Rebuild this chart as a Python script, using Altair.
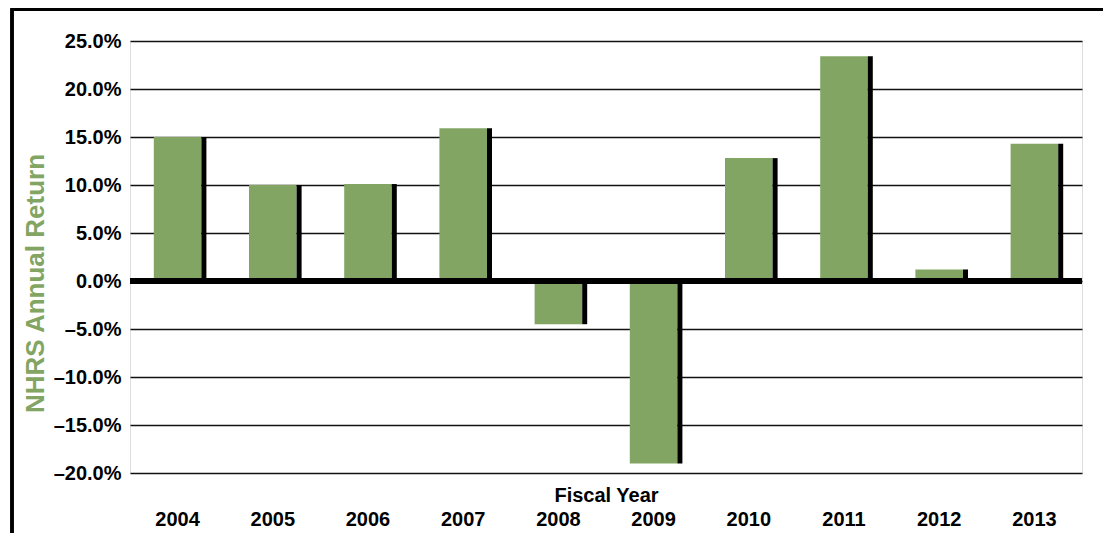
import altair as alt
import pandas as pd

years = ["2004", "2005", "2006", "2007", "2008", "2009", "2010", "2011", "2012", "2013"]
returns = [15.0, 10.0, 10.1, 15.9, -4.5, -19.0, 12.8, 23.4, 1.2, 14.3]
y_ticks = [-20, -15, -10, -5, 0, 5, 10, 15, 20, 25]

df = pd.DataFrame({"year": years, "ret": returns})

GREEN = "#83a563"
FONT = "Liberation Sans"
W, H = 952, 432

x_enc = alt.X(
    "year:O",
    sort=years,
    scale=alt.Scale(paddingInner=0.5, paddingOuter=0.25),
    axis=alt.Axis(
        title="Fiscal Year",
        titleFont=FONT, titleFontSize=20, titleFontWeight="bold", titleColor="black",
        titleBaseline="alphabetic", titleY=28,
        labelFont=FONT, labelFontSize=20, labelFontWeight="bold", labelColor="black",
        labelAngle=0, labelPadding=36, ticks=False, tickSize=0, domain=False, grid=False,
    ),
)

y_enc = alt.Y(
    "ret:Q",
    scale=alt.Scale(domain=[-20, 25], nice=False),
    axis=alt.Axis(
        values=y_ticks,
        labelExpr="(datum.value < 0 ? '–' : '') + format(abs(datum.value), '.1f') + '%'",
        title="NHRS Annual Return",
        titleFont=FONT, titleFontSize=26, titleFontWeight="bold", titleColor=GREEN,
        titleBaseline="alphabetic", titleX=-87, titleY=242,
        labelFont=FONT, labelFontSize=20, labelFontWeight="bold", labelColor="black",
        labelPadding=9, ticks=False, tickSize=0, domain=False,
        grid=True, gridColor="#111111", gridWidth=1.3,
    ),
)

base = alt.Chart(df)

bars = base.mark_bar(color=GREEN).encode(x=x_enc, y=y_enc)
shadow = base.mark_bar(color="black", size=5, xOffset=26.3).encode(x="year:O", y="ret:Q")

zero = alt.Chart(df).mark_rule(color="black", strokeWidth=5).encode(y=alt.datum(0))

frame_top = alt.Chart(df).mark_rule(color="black", strokeWidth=2.5).encode(
    x=alt.value(-118), x2=alt.value(W + 60), y=alt.value(-31.5)
)
frame_left = alt.Chart(df).mark_rule(color="black", strokeWidth=2.5).encode(
    x=alt.value(-118), y=alt.value(-32.7), y2=alt.value(H + 120)
)

chart = alt.layer(bars, shadow, zero, frame_top, frame_left).properties(
    width=W,
    height=H,
    autosize="none",
    padding={"left": 122, "top": 33, "right": 21, "bottom": 60},
).configure_view(stroke=None).configure(background="white")

chart.save("out.html", embed_options={"renderer": "svg", "actions": False})
